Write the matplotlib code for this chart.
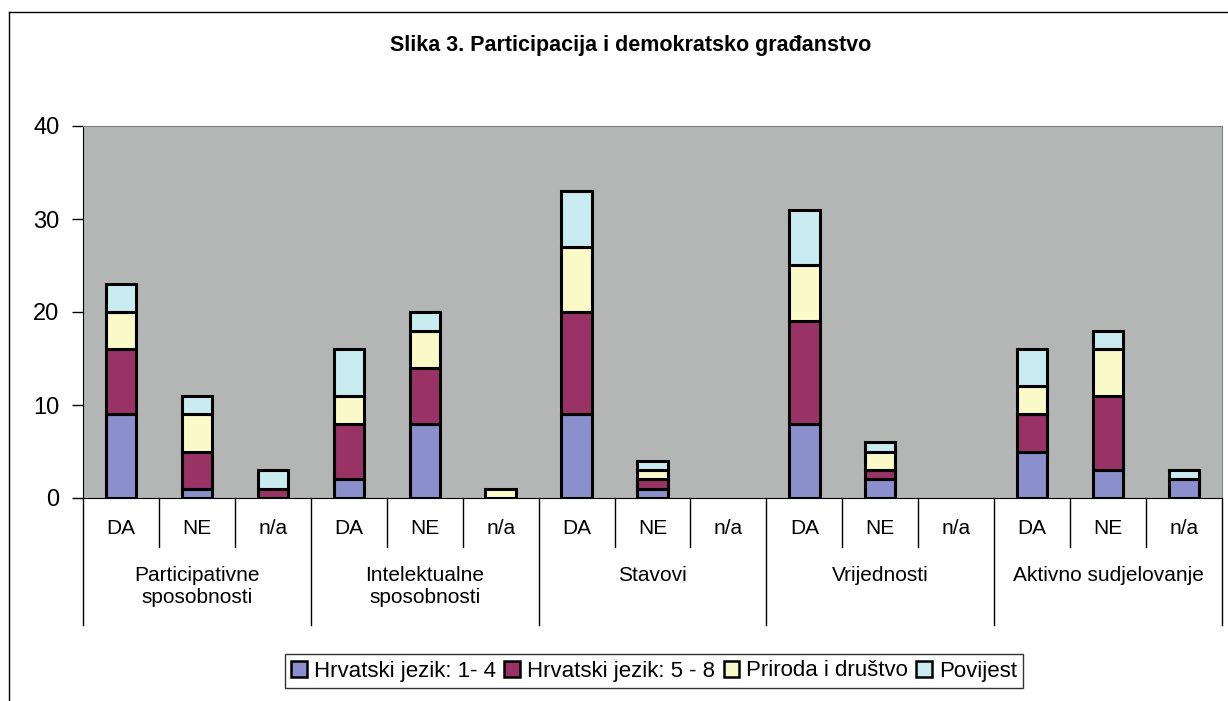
import matplotlib.pyplot as plt
from matplotlib.patches import Patch
from matplotlib.lines import Line2D
import matplotlib.transforms as mtransforms

plt.rcParams['font.family'] = ['Liberation Sans', 'DejaVu Sans']

# data
answers = ["DA", "NE", "n/a"]
groups = ["Participativne\nsposobnosti", "Intelektualne\nsposobnosti", "Stavovi",
          "Vrijednosti", "Aktivno sudjelovanje"]
series_names = ["Hrvatski jezik: 1- 4", "Hrvatski jezik: 5 - 8", "Priroda i društvo", "Povijest"]
hrv_1_4 = [9, 1, 0, 2, 8, 0, 9, 1, 0, 8, 2, 0, 5, 3, 2]
hrv_5_8 = [7, 4, 1, 6, 6, 0, 11, 1, 0, 11, 1, 0, 4, 8, 0]
priroda = [4, 4, 0, 3, 4, 1, 7, 1, 0, 6, 2, 0, 3, 5, 0]
povijest = [3, 2, 2, 5, 2, 0, 6, 1, 0, 6, 1, 0, 4, 2, 1]
colors = ["#8B8FCB", "#993366", "#FAFAC8", "#C8EBF0"]

W, H = 1228, 701
fig = plt.figure(figsize=(W / 100, H / 100), dpi=100)
fig.patch.set_facecolor("white")

left, right, top, bottom = 83, 1222, 126, 498
ax = fig.add_axes([left / W, 1 - bottom / H, (right - left) / W, (bottom - top) / H])
ax.set_facecolor("#B4B6B6")

x = list(range(len(hrv_1_4)))
base = [0] * len(x)
for vals, col, name in zip([hrv_1_4, hrv_5_8, priroda, povijest], colors, series_names):
    # skip empty segments so they don't show as flat lines
    xs = [i for i in x if vals[i] > 0]
    ax.bar(xs, [vals[i] for i in xs], bottom=[base[i] for i in xs], width=0.4, color=col,
           edgecolor="black", linewidth=2.2, label=name)
    base = [b + v for b, v in zip(base, vals)]

ax.set_xlim(-0.5, len(x) - 0.5)
ax.set_ylim(0, 40)
ax.set_yticks([0, 10, 20, 30, 40])
ax.tick_params(axis="y", direction="out", length=8, width=1, labelsize=17, pad=9)
ax.set_xticks([])
for s in ["top", "right"]:
    ax.spines[s].set_color("#808080")
ax.spines["left"].set_color("black")
ax.spines["bottom"].set_color("black")

# multi-level category axis
trans = mtransforms.blended_transform_factory(ax.transData, ax.transAxes)
ax_h = bottom - top
for i in range(len(x)):
    ax.text(i, -(529 - bottom) / ax_h, answers[i % 3], transform=trans, ha="center", va="center",
            fontsize=15)
    if i % 3 != 0:
        ax.plot([i - 0.5, i - 0.5], [0, -(547 - bottom) / ax_h], transform=trans, color="black",
                lw=1, clip_on=False)
for g in range(len(groups) + 1):
    ax.plot([g * 3 - 0.5, g * 3 - 0.5], [0, -(625 - bottom) / ax_h], transform=trans,
            color="black", lw=1, clip_on=False)
for g, name in enumerate(groups):
    ax.text(g * 3 + 1, -(566 - bottom) / ax_h, name, transform=trans, ha="center", va="top",
            fontsize=15, linespacing=1.2)

fig.text(631 / W, 1 - 46 / H, "Slika 3. Participacija i demokratsko građanstvo", ha="center",
         va="center", fontsize=15.5, fontweight="bold")

handles = [Patch(facecolor=c, edgecolor="black", linewidth=1.8) for c in colors]
leg = fig.legend(handles, series_names, loc="center", bbox_to_anchor=(654 / W, 1 - 671 / H), ncol=4,
                 fontsize=16, frameon=True, fancybox=False, edgecolor="black", handlelength=0.7,
                 handleheight=0.7, handletextpad=0.3, columnspacing=0.4, borderpad=0.3,
                 borderaxespad=0)
leg.get_frame().set_linewidth(1)

# outer chart border
fig.add_artist(Line2D([9 / W, 9 / W], [0, 1 - 12 / H], color="black", lw=1))
fig.add_artist(Line2D([9 / W, 1], [1 - 12 / H, 1 - 12 / H], color="black", lw=1))

fig.savefig("out.png", dpi=100)
